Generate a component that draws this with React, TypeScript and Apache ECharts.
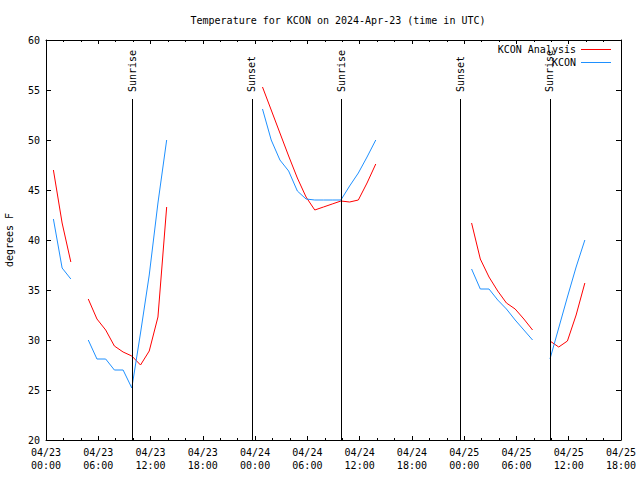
import React, { useEffect, useRef } from "react";
import * as echarts from "echarts";

const FONT = "'DejaVu Sans Mono', monospace";

const titleText = "Temperature for KCON on 2024-Apr-23 (time in UTC)";
const yAxisName = "degrees F";
const seriesNames = ["KCON Analysis", "KCON"];

const xTickLabels = [
  "04/23\n00:00", "04/23\n06:00", "04/23\n12:00", "04/23\n18:00",
  "04/24\n00:00", "04/24\n06:00", "04/24\n12:00", "04/24\n18:00",
  "04/25\n00:00", "04/25\n06:00", "04/25\n12:00", "04/25\n18:00",
];

const obsTimes = [
  "04/23 00:51", "04/23 01:51", "04/23 02:51", "04/23 03:51", "04/23 04:51", "04/23 05:51",
  "04/23 06:51", "04/23 07:51", "04/23 08:51", "04/23 09:51", "04/23 10:51", "04/23 11:51",
  "04/23 12:51", "04/23 13:51", "04/23 14:51", "04/23 15:51", "04/23 16:51", "04/23 17:51",
  "04/23 18:51", "04/23 19:51", "04/23 20:51", "04/23 21:51", "04/23 22:51", "04/23 23:51",
  "04/24 00:51", "04/24 01:51", "04/24 02:51", "04/24 03:51", "04/24 04:51", "04/24 05:51",
  "04/24 06:51", "04/24 07:51", "04/24 08:51", "04/24 09:51", "04/24 10:51", "04/24 11:51",
  "04/24 12:51", "04/24 13:51", "04/24 14:51", "04/24 15:51", "04/24 16:51", "04/24 17:51",
  "04/24 18:51", "04/24 19:51", "04/24 20:51", "04/24 21:51", "04/24 22:51", "04/24 23:51",
  "04/25 00:51", "04/25 01:51", "04/25 02:51", "04/25 03:51", "04/25 04:51", "04/25 05:51",
  "04/25 06:51", "04/25 07:51", "04/25 08:51", "04/25 09:51", "04/25 10:51", "04/25 11:51",
  "04/25 12:51", "04/25 13:51",
];

const analysisTemps: (number | null)[] = [
  47.0, 41.7, 37.8, null, 34.1, 32.1, 31.0, 29.4, 28.8, 28.4, 27.5, 28.9,
  32.3, 43.3, null, null, null, null, null, null, null, null, null, null,
  55.3, 53.0, 50.7, 48.4, 46.2, 44.3, 43.0, 43.3, 43.6, 43.9, 43.8, 44.0,
  45.7, 47.6, null, null, null, null, null, null, null, null, null, null,
  41.7, 38.1, 36.3, 34.9, 33.7, 33.1, 32.1, 31.0, null, 29.9, 29.3, 29.9,
  32.5, 35.7,
];

const observedTemps: (number | null)[] = [
  42.1, 37.2, 36.1, null, 30.0, 28.1, 28.1, 27.0, 27.0, 25.2, 30.7, 36.5,
  43.7, 50.0, null, null, null, null, null, null, null, null, null, null,
  53.1, 50.0, 48.0, 46.9, 44.9, 44.1, 44.0, 44.0, 44.0, 44.0, 45.4, 46.7,
  48.3, 50.0, null, null, null, null, null, null, null, null, null, null,
  37.1, 35.1, 35.1, 34.0, 33.1, 32.0, 31.0, 30.0, null, 28.1, 31.2, 34.3,
  37.3, 40.0,
];

const sunEvents = [
  { label: "Sunrise", time: "04/23 09:57" },
  { label: "Sunset", time: "04/23 23:37" },
  { label: "Sunrise", time: "04/24 09:52" },
  { label: "Sunset", time: "04/24 23:36" },
  { label: "Sunrise", time: "04/25 09:51" },
];

const yTicks = { min: 20, max: 60, step: 5 };
const xRange = { min: 0, max: 66, step: 6 };
const sunLineTop = 54.1;
const sunLabelBase = 54.8;

// hours since 04/23 00:00 UTC
function toHours(s: string): number {
  const [date, hm] = s.split(" ");
  const day = parseInt(date.split("/")[1], 10);
  const [h, m] = hm.split(":").map((v) => parseInt(v, 10));
  return (day - 23) * 24 + h + m / 60;
}

function pairs(vals: (number | null)[]) {
  return obsTimes.map((t, i) => [toHours(t), vals[i] === null ? "-" : vals[i]]);
}

export default function App() {
  const ref = useRef<HTMLDivElement>(null);
  useEffect(() => {
    const chart = echarts.init(ref.current!, null, { renderer: "svg" });
    const axisLine = { show: true, onZero: false, lineStyle: { color: "#000", width: 1 } };
    const xBase = {
      type: "value" as const,
      min: xRange.min,
      max: xRange.max,
      interval: xRange.step,
      axisLine,
      axisTick: { show: true, inside: true, length: 4, lineStyle: { color: "#000" } },
      minorTick: { show: true, splitNumber: 3, length: 2, lineStyle: { color: "#000" } },
      splitLine: { show: false },
      minorSplitLine: { show: false },
    };
    const yBase = {
      type: "value" as const,
      min: yTicks.min,
      max: yTicks.max,
      interval: yTicks.step,
      axisLine,
      axisTick: { show: true, inside: true, length: 5, lineStyle: { color: "#000" } },
      splitLine: { show: false },
    };
    chart.setOption({
      animation: false,
      backgroundColor: "#fff",
      textStyle: { fontFamily: FONT },
      title: {
        text: titleText,
        left: 333,
        textAlign: "center",
        top: 10,
        textStyle: { fontFamily: FONT, fontSize: 10, fontWeight: "normal", color: "#000" },
      },
      legend: {
        data: seriesNames,
        orient: "vertical",
        right: 24,
        top: 38,
        align: "right",
        icon: "rect",
        itemWidth: 30,
        itemHeight: 1,
        itemGap: 0,
        textStyle: { fontFamily: FONT, fontSize: 10, color: "#000", lineHeight: 13 },
      },
      grid: { left: 46, right: 19, top: 40, bottom: 40, containLabel: false, outerBoundsMode: "none" },
      xAxis: [
        {
          ...xBase,
          position: "bottom",
          axisLabel: {
            show: true,
            showMinLabel: true,
            showMaxLabel: true,
            margin: 6,
            color: "#000",
            fontFamily: FONT,
            fontSize: 10,
            lineHeight: 13,
            formatter: (v: number) => xTickLabels[Math.round(v / xRange.step)] ?? "",
          },
        },
        { ...xBase, position: "top", axisLabel: { show: false } },
      ],
      yAxis: [
        {
          ...yBase,
          position: "left",
          name: yAxisName,
          nameLocation: "middle",
          nameGap: 32,
          nameRotate: 90,
          nameTextStyle: { fontFamily: FONT, fontSize: 10, color: "#000" },
          axisLabel: { show: true, margin: 6, color: "#000", fontFamily: FONT, fontSize: 10 },
        },
        { ...yBase, position: "right", axisLabel: { show: false } },
      ],
      series: [
        {
          name: seriesNames[0],
          type: "line",
          xAxisIndex: 0,
          yAxisIndex: 0,
          data: pairs(analysisTemps),
          showSymbol: false,
          symbol: "none",
          connectNulls: false,
          color: "#ff0000",
          lineStyle: { color: "#ff0000", width: 1 },
          markLine: {
            silent: true,
            symbol: ["none", "none"],
            label: { show: false },
            lineStyle: { color: "#000", width: 1, type: "solid" },
            data: sunEvents.map((e) => [
              { coord: [toHours(e.time), yTicks.min] },
              { coord: [toHours(e.time), sunLineTop] },
            ]),
          },
          markPoint: {
            silent: true,
            symbol: "circle",
            symbolSize: 0,
            data: sunEvents.map((e) => ({ name: e.label, coord: [toHours(e.time), sunLabelBase] })),
            label: {
              show: true,
              formatter: "{b}",
              position: "inside",
              rotate: 90,
              align: "left",
              verticalAlign: "middle",
              color: "#000",
              fontFamily: FONT,
              fontSize: 10,
            },
          },
        },
        {
          name: seriesNames[1],
          type: "line",
          xAxisIndex: 0,
          yAxisIndex: 0,
          data: pairs(observedTemps),
          showSymbol: false,
          symbol: "none",
          connectNulls: false,
          color: "#1e90ff",
          lineStyle: { color: "#1e90ff", width: 1 },
        },
      ],
    });
    return () => chart.dispose();
  }, []);
  return (
    <div
      ref={ref}
      style={{ position: "fixed", left: 0, top: 0, width: 640, height: 480, background: "#fff" }}
    />
  );
}
